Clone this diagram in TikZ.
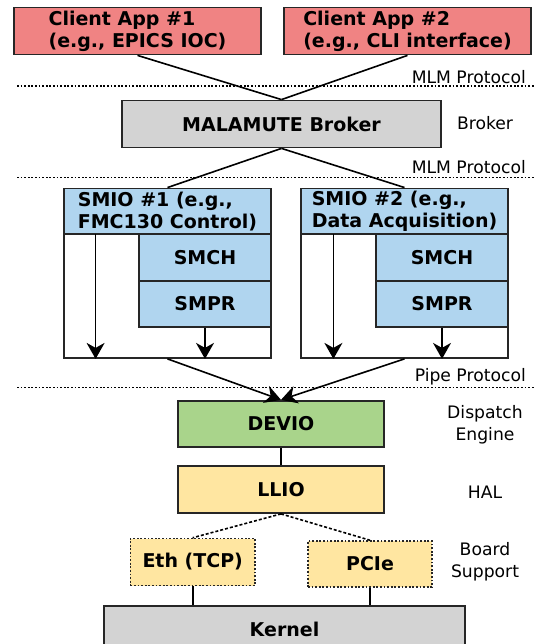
\documentclass[tikz,border=0pt]{standalone}
\usepackage{fontspec}
\setmainfont{DejaVu Sans}
\usetikzlibrary{arrows.meta,calc}
\definecolor{cred}{HTML}{F08383}
\definecolor{cgray}{HTML}{D3D3D3}
\definecolor{cblue}{HTML}{B0D5EF}
\definecolor{cgreen}{HTML}{A9D48B}
\definecolor{cyellow}{HTML}{FFE6A1}
\begin{document}
\begin{tikzpicture}[x=1pt,y=-1pt,
  bx/.style={draw=black!85, line width=1.8pt, inner sep=0pt, align=left,
    font=\fontsize{19}{22}\selectfont\bfseries},
  lbl/.style={font=\fontsize{17.2}{22.5}\selectfont, inner sep=0pt, align=center},
  sep/.style={line width=1.5pt, dash pattern=on 1.8pt off 1.8pt},
  ln/.style={line width=1.6pt},
  arr/.style={line width=1.6pt, -{Stealth[length=16pt,width=18pt,inset=5pt]}}]
\useasboundingbox (0,0) rectangle (535,644);
\clip (0,0) rectangle (535,644);
% clients
\node[bx, fill=cred, minimum width=247pt, minimum height=47pt] (c1) at (137.5,31) {Client App \#1\\(e.g., EPICS IOC)};
\node[bx, fill=cred, minimum width=247pt, minimum height=47pt] (c2) at (407.5,31) {Client App \#2\\(e.g., CLI interface)};
% broker
\node[bx, fill=cgray, minimum width=319pt, minimum height=47pt] (br) at (281.5,124) {MALAMUTE Broker};
% SMIO 1
\node[bx, fill=white, minimum width=207pt, minimum height=124pt] (s1b) at (167.5,296) {};
\node[bx, fill=cblue, minimum width=207pt, minimum height=45.5pt] (s1h) at (167.5,211.2) {SMIO \#1 (e.g.,\\FMC130 Control)};
\node[bx, fill=cblue, minimum width=132pt, minimum height=46.7pt] (smch1) at (205,257.3) {SMCH};
\node[bx, fill=cblue, minimum width=132pt, minimum height=46.7pt] (smpr1) at (205,304) {SMPR};
% SMIO 2
\node[bx, fill=white, minimum width=207pt, minimum height=124pt] (s2b) at (404.5,296) {};
\node[bx, fill=cblue, minimum width=207pt, minimum height=45.5pt] (s2h) at (404.5,211.2) {SMIO \#2 (e.g.,\\Data Acquisition)};
\node[bx, fill=cblue, minimum width=132pt, minimum height=46.7pt] (smch2) at (442,257.3) {SMCH};
\node[bx, fill=cblue, minimum width=132pt, minimum height=46.7pt] (smpr2) at (442,304) {SMPR};
% lower stack
\node[bx, fill=cgreen, minimum width=206.5pt, minimum height=46.5pt] (dev) at (281,424) {DEVIO};
\node[bx, fill=cyellow, minimum width=206.5pt, minimum height=47pt] (llio) at (281,489.5) {LLIO};
\node[bx, fill=cyellow, minimum width=124.6pt, minimum height=47pt, line width=1.5pt, dash pattern=on 1.8pt off 1.8pt] (eth) at (192.7,562) {Eth (TCP)};
\node[bx, fill=cyellow, minimum width=124pt, minimum height=46pt, line width=1.5pt, dash pattern=on 1.8pt off 1.8pt] (pcie) at (370,564) {PCIe};
\node[bx, fill=cgray, minimum width=361pt, minimum height=47pt] (ker) at (284.5,629.5) {Kernel};
% separators
\coordinate (d1a) at (17,86); \coordinate (d1b) at (535,86);
\coordinate (d2a) at (17,177.5); \coordinate (d2b) at (535,177.5);
\coordinate (d3a) at (17,387.5); \coordinate (d3b) at (535,387.5);
\draw[sep] (d1a) -- (d1b);
\draw[sep] (d2a) -- (d2b);
\draw[sep] (d3a) -- (d3b);
% labels
\node[lbl, anchor=east] (l1) at (526,76.8) {MLM Protocol};
\node[lbl, anchor=east] (l2) at (526,167) {MLM Protocol};
\node[lbl, anchor=east] (l3) at (526,377) {Pipe Protocol};
\node[lbl] (l4) at (485,123) {Broker};
\node[lbl] (l5) at (485,425) {Dispatch\\Engine};
\node[lbl] (l6) at (485,492) {HAL};
\node[lbl] (l7) at (485,561.5) {Board\\Support};
% connectors
\draw[ln] (c1.south) -- (br.north);
\draw[ln] (c2.south) -- (br.north);
\draw[ln] (br.south) -- (s1h.north);
\draw[ln] (br.south) -- (s2h.north);
\coordinate (a1) at (95.6,234);
\coordinate (a2) at (333.4,234);
\draw[arr] (a1) -- (a1 |- s1b.south);
\draw[arr] (smpr1.south) -- (smpr1.south |- s1b.south);
\draw[arr] (a2) -- (a2 |- s2b.south);
\draw[arr] (smpr2.south) -- (smpr2.south |- s2b.south);
\draw[arr] (s1b.south) -- (dev.north);
\draw[arr] (s2b.south) -- (dev.north);
\draw[ln] (dev.south) -- (llio.north);
\draw[ln, dash pattern=on 3pt off 2pt] (llio.south) -- (eth.north);
\draw[ln, dash pattern=on 3pt off 2pt] (llio.south) -- (pcie.north);
\draw[ln] (eth.south) -- (eth.south |- ker.north);
\draw[ln] (pcie.south) -- (pcie.south |- ker.north);
\end{tikzpicture}
\end{document}
